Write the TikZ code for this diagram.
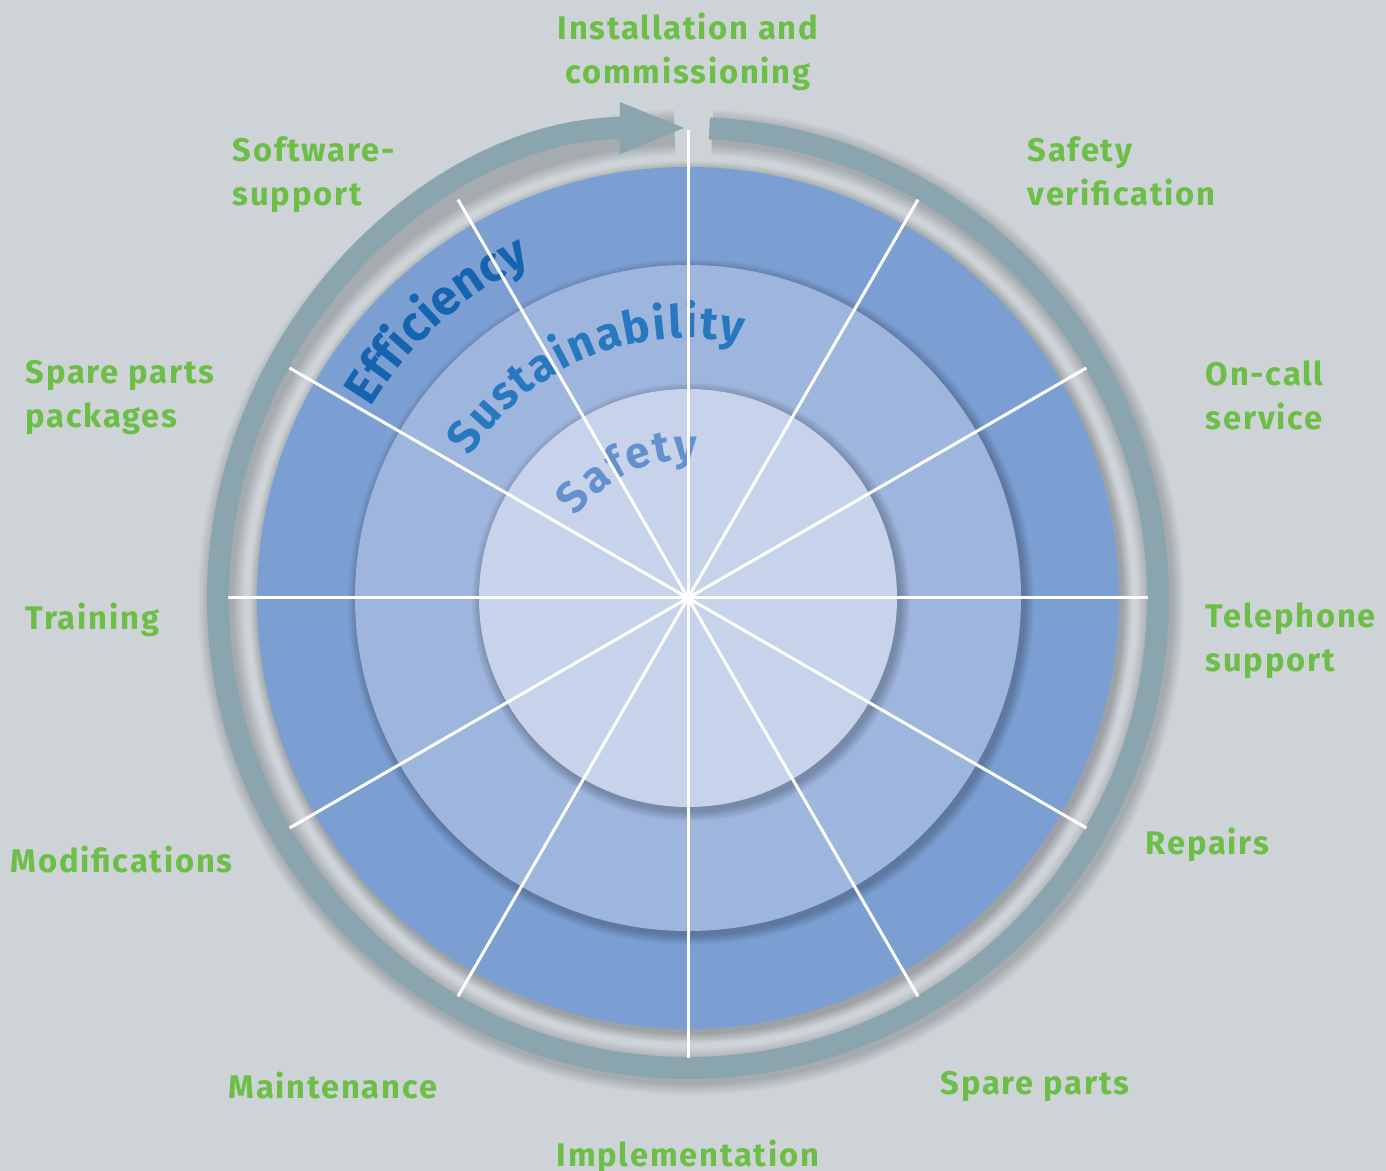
\documentclass[tikz,border=0pt]{standalone}
\usepackage{fontspec}
\setmainfont{Fira Sans}
\newfontfamily\lblfont{Fira Sans}[LetterSpace=5.5]
\usetikzlibrary{arrows.meta,decorations.text}

\definecolor{paper}{RGB}{206,211,216}
\definecolor{ringgray}{RGB}{139,165,175}
\definecolor{outerblue}{RGB}{123,159,211}
\definecolor{midblue}{RGB}{158,181,221}
\definecolor{innerblue}{RGB}{198,211,234}
\definecolor{leafgreen}{RGB}{108,190,70}
\definecolor{effblue}{RGB}{21,100,175}
\definecolor{susblue}{RGB}{40,120,192}
\definecolor{safblue}{RGB}{100,145,205}

\tikzset{
  lbl/.style={font=\lblfont\fontsize{9.3}{12.5}\selectfont\bfseries, text=leafgreen,
    align=left, anchor=north west, inner sep=0pt},
  ringline/.style={draw=ringgray, line width=0.22cm},
  spoke/.style={draw=white, line width=0.85pt},
  soft/.style={black, opacity=0.025},
}

\begin{document}
\begin{tikzpicture}[x=0.01cm, y=0.01cm]
        \fill[paper] (-688,-573) rectangle (698,598);
        \useasboundingbox (-688,-573) rectangle (698,598);
        \coordinate (c) at (0,0);

        % ring with arrow
        \foreach \k in {1,...,8}
                \draw[soft, line width=0.22cm+\k*0.03cm] ([shift={(3,-4)}]87.4:470)
                        arc[start angle=87.4, end angle=-268, radius=470];
        \draw[ringline, -{Triangle[length=0.68cm, width=0.46cm]}] (87.4:470)
                arc[start angle=87.4, end angle=-270, radius=470];

        % discs
        \foreach \r/\col in {431/outerblue, 333/midblue, 209/innerblue}{
                \foreach \k in {1,...,10}
                        \fill[soft] ([shift={(3,-4)}]c) circle (\r+\k);
                \fill[\col] (c) circle (\r);
        }

        % curved words
        \path[decorate, decoration={text along path, text align=fit to path,
                text={|\fontsize{14}{16}\selectfont\bfseries\color{effblue}|Efficiency}}]
                (149:370) arc[start angle=149, end angle=115, radius=370];
        \path[decorate, decoration={text along path, text align=fit to path,
                text={|\fontsize{13}{15}\selectfont\bfseries\color{susblue}|Sustainability}}]
                (147:260) arc[start angle=147, end angle=78, radius=260];
        \path[decorate, decoration={text along path, text align=fit to path,
                text={|\fontsize{12.5}{15}\selectfont\bfseries\color{safblue}|Safety}}]
                (144:138) arc[start angle=144, end angle=86, radius=138];

        % spokes
        \foreach \a/\len in {0/460,30/460,60/460,90/468,120/460,150/460,
                             180/460,210/460,240/460,270/460,300/460,330/460}{
                \coordinate (s\a) at (\a:\len);
                \draw[spoke] (c) -- (s\a);
        }

        % labels
        \node[lbl, anchor=north, align=center] (install) at (0,586) {Installation and\\commissioning};
        \node[lbl] (safetyver) at (339,462) {Safety\\verification};
        \node[lbl] (software) at (-456,462) {Software-\\support};
        \node[lbl] (sparepack) at (-663,238) {Spare parts\\packages};
        \node[lbl] (oncall) at (517,238) {On-call\\service};
        \node[lbl] (training) at (-663,-4) {Training};
        \node[lbl] (telephone) at (517,-4) {Telephone\\support};
        \node[lbl] (modif) at (-678,-247) {Modifications};
        \node[lbl] (repairs) at (457,-229) {Repairs};
        \node[lbl] (maint) at (-460,-473) {Maintenance};
        \node[lbl] (spareparts) at (252,-473) {Spare parts};
        \node[lbl, anchor=north, align=center] (implement) at (0,-541) {Implementation};
\end{tikzpicture}
\end{document}
